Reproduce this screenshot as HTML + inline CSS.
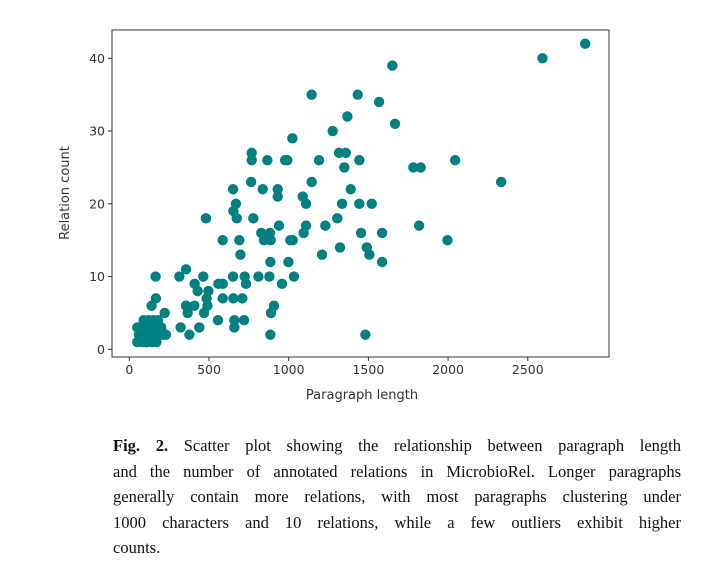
<!DOCTYPE html>
<html><head><meta charset="utf-8"><style>
body{margin:0;background:#fff;width:705px;height:577px;overflow:hidden;position:relative}
#cap{position:absolute;left:113px;top:433px;width:568px;font-family:"Liberation Serif",serif;font-size:16.5px;line-height:25.6px;color:#111}
#cap .ln{display:block;white-space:nowrap;text-align:justify;text-align-last:justify}
#cap .last{text-align-last:left}
</style></head><body>
<svg id="chart" width="705" height="420" style="position:absolute;left:0;top:0" font-family="DejaVu Sans, Liberation Sans, sans-serif"></svg>
<div id="cap"><span class="ln"><b>Fig. 2.</b> Scatter plot showing the relationship between paragraph length</span><span class="ln">and the number of annotated relations in MicrobioRel. Longer paragraphs</span><span class="ln">generally contain more relations, with most paragraphs clustering under</span><span class="ln">1000 characters and 10 relations, while a few outliers exhibit higher</span><span class="ln last">counts.</span></div>
<script>
const xVals=[2860,2592,1650,1144,1433,1567,1368,1667,1276,1023,768,768,866,977,991,1190,1316,1358,1443,1349,1782,1828,2044,2333,764,1144,651,837,931,931,1088,1109,1389,669,653,674,481,778,1335,1443,1521,1305,939,1109,1094,1230,1818,828,883,845,887,586,690,1010,1025,1454,1586,1996,1322,1490,1506,1209,1586,697,885,998,165,314,356,464,651,724,810,879,1033,732,958,410,429,496,559,586,485,490,167,140,586,653,709,356,408,366,469,908,889,222,556,659,720,659,322,439,377,885,1481,50,80,110,140,170,60,90,120,150,180,210,230,50,70,100,130,160,190,90,120,150,180,200,100,130];
const yVals=[42,40,39,35,35,34,32,31,30,29,27,26,26,26,26,26,27,27,26,25,25,25,26,23,23,23,22,22,22,21,21,20,22,20,19,18,18,18,20,20,20,18,17,17,16,17,17,16,16,15,15,15,15,15,15,16,16,15,14,14,13,13,12,13,12,12,10,10,11,10,10,10,10,10,10,9,9,9,8,8,9,9,7,6,7,6,7,7,7,6,6,5,5,6,5,5,4,4,4,3,3,3,2,2,2,1,1,1,1,1,2,2,2,2,2,2,2,3,3,3,3,3,3,4,4,4,4,3,1,2];
const xTicks=[0,500,1000,1500,2000,2500];
const yTicks=[0,10,20,30,40];
const NS='http://www.w3.org/2000/svg';
const svg=document.getElementById('chart');
const L=112,R=609,T=30,B=357;
const sx=v=>129.3+v*0.1594;
const sy=v=>349.3-v*7.275;
function mk(t,a){const e=document.createElementNS(NS,t);for(const k in a)e.setAttribute(k,a[k]);svg.appendChild(e);return e;}
const frame=mk('rect',{x:L,y:T,width:R-L,height:B-T,fill:'none',stroke:'#333','stroke-width':1});


xVals.forEach((v,i)=>{const c=mk('circle',{cx:sx(v),cy:sy(yVals[i]),r:5.2,fill:'#008080'});

});
xTicks.forEach(v=>{mk('line',{x1:sx(v),x2:sx(v),y1:B,y2:B+4,stroke:'#333'});
const t=mk('text',{x:sx(v),y:B+17,'text-anchor':'middle','font-size':'12.5',fill:'#333'});t.textContent=v;

});
yTicks.forEach(v=>{mk('line',{x1:L-4,x2:L,y1:sy(v),y2:sy(v),stroke:'#333'});
const t=mk('text',{x:L-7,y:sy(v)+4.5,'text-anchor':'end','font-size':'12.5',fill:'#333'});t.textContent=v;

});
const xl=mk('text',{x:362,y:399,'text-anchor':'middle','font-size':'13',fill:'#333'});xl.textContent='Paragraph length';


const yl=mk('text',{x:0,y:0,'text-anchor':'middle','font-size':'13',fill:'#333',transform:'translate(69,193) rotate(-90)'});yl.textContent='Relation count';


</script>
</body></html>
